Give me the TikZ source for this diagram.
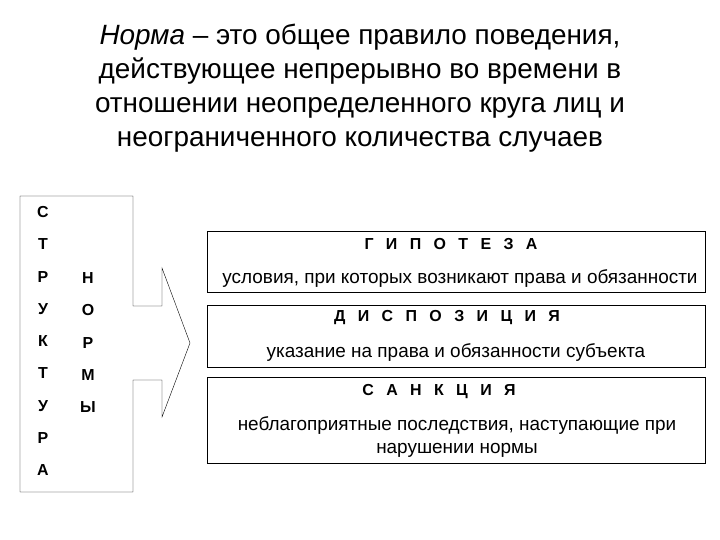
\documentclass[tikz,border=0pt]{standalone}
\usepackage{fontspec}
\setmainfont{Liberation Sans}
\newfontfamily\spacedfont[LetterSpace=50]{Liberation Sans}

\begin{document}
\begin{tikzpicture}[x=1bp, y=-1bp,
  part/.style={draw, thin, anchor=north west, minimum width=498bp, inner sep=0pt},
  head/.style={font=\spacedfont\bfseries\fontsize{16}{19}\selectfont},
  note/.style={font=\fontsize{19}{23}\selectfont, align=center},
  letter/.style={font=\bfseries\fontsize{16}{19}\selectfont},
  node distance=32.3bp]

 \useasboundingbox (0,0) rectangle (720,540);

 %%%  title

 \node [font=\fontsize{28}{34}\selectfont, align=center] (title) at (360,88)
  {\textit{Норма} -- это общее правило поведения,\\
   действующее непрерывно во времени в\\
   отношении неопределенного круга лиц и\\
   неограниченного количества случаев};

 %%%  structure block with arrow

 \draw [thin] (20,196) -- (133,196) -- (133,306) -- (162,306) -- (162,268)
  -- (190,343) -- (162,417) -- (162,380) -- (133,380) -- (133,492)
  -- (20,492) -- cycle;

 % structure letters
 \node [letter] (s1) at (43,212) {С};
 \node [letter, below of=s1] (s2) {Т};
 \node [letter, below of=s2] (s3) {Р};
 \node [letter, below of=s3] (s4) {У};
 \node [letter, below of=s4] (s5) {К};
 \node [letter, below of=s5] (s6) {Т};
 \node [letter, below of=s6] (s7) {У};
 \node [letter, below of=s7] (s8) {Р};
 \node [letter, below of=s8] (s9) {А};

 % norm letters
 \node [letter] (n1) at (88,278) {Н};
 \node [letter, below of=n1] (n2) {О};
 \node [letter, below of=n2] (n3) {Р};
 \node [letter, below of=n3] (n4) {М};
 \node [letter, below of=n4] (n5) {Ы};

 %%%  parts of the norm

 \node [part, minimum height=61bp] (hyp) at (207,231) {};
 \node [part, minimum height=62bp] (disp) at (207,305) {};
 \node [part, minimum height=86bp] (sanc) at (207,377) {};

 \node [head] (hyphead) at (451,244) {Г И П О Т Е З А};
 \node [note] (hyptext) at (460,279) {условия, при которых возникают права и обязанности};
 \node [head] (disphead) at (447,318) {Д И С П О З И Ц И Я};
 \node [note] (disptext) at (456,353) {указание на права и обязанности субъекта};
 \node [head] (sanchead) at (439,392) {С А Н К Ц И Я};
 \node [note] (sanctext) at (457,437) {неблагоприятные последствия, наступающие при\\ нарушении нормы};

\end{tikzpicture}
\end{document}
